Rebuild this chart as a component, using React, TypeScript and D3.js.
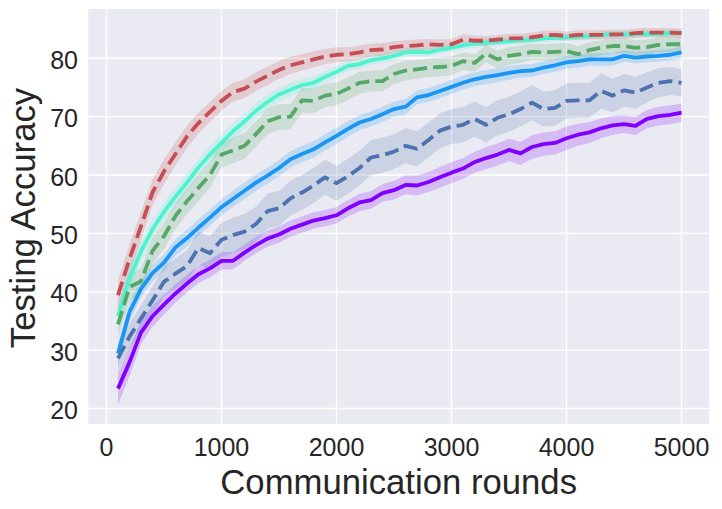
import * as d3 from 'd3';

// communication rounds at which each run was evaluated
const rounds = [
  100, 200, 300, 400, 500, 600, 700, 800, 900, 1000,
  1100, 1200, 1300, 1400, 1500, 1600, 1700, 1800, 1900, 2000,
  2100, 2200, 2300, 2400, 2500, 2600, 2700, 2800, 2900, 3000,
  3100, 3200, 3300, 3400, 3500, 3600, 3700, 3800, 3900, 4000,
  4100, 4200, 4300, 4400, 4500, 4600, 4700, 4800, 4900, 5000,
];

const purpleMean = [
  23.4, 27.9, 33.0, 35.8, 37.8, 39.7, 41.4, 43.0, 44.0, 45.3,
  45.3, 46.7, 48.0, 49.1, 49.8, 50.8, 51.5, 52.2, 52.6, 53.1,
  54.3, 55.3, 55.7, 56.9, 57.4, 58.3, 58.2, 58.8, 59.6, 60.4,
  61.1, 62.2, 62.9, 63.5, 64.3, 63.7, 64.8, 65.3, 65.5, 66.3,
  66.9, 67.3, 68.0, 68.5, 68.7, 68.4, 69.6, 70.1, 70.3, 70.7,
];
const purpleBand = [
  2.8, 2.4, 2.0, 1.8, 1.7, 1.6, 1.5, 1.5, 1.5, 1.5,
  1.5, 1.4, 1.4, 1.4, 1.4, 1.4, 1.4, 1.4, 1.4, 1.4,
  1.4, 1.5, 1.5, 1.5, 1.6, 1.6, 1.7, 1.7, 1.8, 1.8,
  1.8, 1.8, 1.9, 1.9, 1.9, 2.0, 2.0, 2.0, 2.0, 2.0,
  1.9, 1.8, 1.7, 1.6, 1.5, 1.6, 1.6, 1.6, 1.6, 1.6,
];

const blueMean = [
  29.4, 36.5, 40.5, 43.2, 45.0, 47.6, 49.2, 51.0, 52.7, 54.5,
  55.9, 57.3, 58.7, 59.9, 61.2, 62.7, 63.6, 64.4, 65.6, 66.7,
  67.9, 69.0, 69.6, 70.4, 71.3, 71.7, 73.3, 73.7, 74.4, 75.1,
  75.8, 76.4, 76.8, 77.1, 77.5, 77.8, 77.9, 78.4, 78.8, 79.3,
  79.5, 79.8, 79.8, 79.8, 80.4, 80.1, 80.3, 80.4, 80.6, 81.0,
];
const blueBand = [
  1.7, 1.6, 1.5, 1.5, 1.4, 1.4, 1.4, 1.4, 1.4, 1.4,
  1.4, 1.4, 1.4, 1.4, 1.4, 1.4, 1.4, 1.4, 1.4, 1.4,
  1.3, 1.3, 1.3, 1.3, 1.3, 1.3, 1.2, 1.2, 1.2, 1.2,
  1.2, 1.2, 1.2, 1.2, 1.2, 1.1, 1.1, 1.1, 1.1, 1.1,
  1.1, 1.1, 1.1, 1.1, 1.0, 1.0, 1.0, 1.0, 1.0, 1.0,
];

const aquaMean = [
  35.8, 42.3, 46.9, 50.7, 53.7, 56.3, 58.7, 61.3, 63.5, 65.5,
  67.5, 69.2, 71.0, 72.5, 73.8, 74.6, 75.4, 75.8, 76.8, 77.7,
  78.7, 79.0, 79.7, 80.0, 80.4, 81.0, 81.1, 81.0, 81.5, 81.8,
  82.2, 82.5, 82.7, 82.8, 82.9, 83.1, 83.2, 83.4, 83.5, 83.6,
  83.7, 83.8, 84.0, 84.1, 84.1, 84.1, 84.2, 84.2, 84.3, 84.4,
];
const aquaBand = [
  2.0, 1.9, 1.8, 1.7, 1.6, 1.6, 1.5, 1.5, 1.5, 1.5,
  1.4, 1.4, 1.3, 1.3, 1.2, 1.2, 1.1, 1.1, 1.0, 1.0,
  0.9, 0.9, 0.8, 0.8, 0.8, 0.7, 0.7, 0.7, 0.7, 0.7,
  0.7, 0.7, 0.7, 0.7, 0.6, 0.6, 0.6, 0.6, 0.6, 0.6,
  0.6, 0.6, 0.6, 0.6, 0.6, 0.6, 0.6, 0.6, 0.6, 0.6,
];

const dashBlueMean = [
  28.6, 32.3, 35.4, 38.5, 41.7, 43.1, 44.4, 47.5, 46.6, 48.9,
  49.7, 50.3, 51.6, 53.8, 54.3, 56.0, 57.0, 58.2, 59.6, 58.6,
  59.8, 61.2, 63.0, 63.4, 64.0, 65.0, 64.5, 66.0, 67.6, 68.3,
  68.6, 69.6, 68.6, 69.8, 70.4, 71.3, 72.4, 71.3, 71.5, 72.7,
  72.8, 72.8, 74.4, 73.6, 74.5, 74.1, 75.0, 75.8, 76.1, 75.8,
];
const dashBlueBand = [
  2.0, 2.2, 2.3, 2.4, 2.5, 2.6, 2.7, 2.8, 2.9, 2.9,
  3.0, 3.0, 3.0, 3.0, 3.0, 3.0, 3.0, 3.0, 3.0, 3.0,
  3.0, 3.0, 3.0, 3.0, 3.0, 3.0, 3.0, 3.0, 3.0, 3.0,
  3.0, 3.0, 3.0, 3.0, 3.0, 3.0, 3.0, 3.0, 3.0, 3.0,
  3.0, 3.0, 3.0, 2.9, 2.8, 2.7, 2.6, 2.5, 2.4, 2.3,
];

const greenMean = [
  34.4, 40.8, 41.8, 47.0, 49.5, 53.0, 55.5, 57.8, 60.0, 63.5,
  64.2, 65.0, 67.0, 69.2, 69.9, 70.0, 72.8, 72.7, 73.6, 73.9,
  74.8, 75.8, 76.1, 76.1, 77.3, 77.9, 78.1, 78.4, 78.5, 78.7,
  79.5, 79.2, 80.8, 79.8, 80.4, 80.7, 81.1, 81.0, 81.1, 81.2,
  80.7, 81.4, 81.8, 82.1, 82.1, 81.8, 81.9, 82.3, 82.4, 82.4,
];
const greenBand = [
  2.4, 2.3, 2.2, 2.2, 2.2, 2.2, 2.2, 2.2, 2.2, 2.2,
  2.2, 2.2, 2.2, 2.2, 2.2, 2.2, 2.1, 2.1, 2.0, 2.0,
  1.9, 1.9, 1.8, 1.8, 1.7, 1.7, 1.6, 1.6, 1.6, 1.6,
  1.5, 1.5, 1.5, 1.5, 1.5, 1.5, 1.4, 1.4, 1.4, 1.4,
  1.4, 1.4, 1.3, 1.3, 1.3, 1.3, 1.3, 1.3, 1.3, 1.3,
];

const redMean = [
  39.4, 45.6, 51.2, 57.0, 60.6, 63.6, 66.6, 68.9, 70.8, 72.7,
  74.2, 74.8, 76.0, 77.0, 78.0, 78.8, 79.3, 79.8, 80.3, 80.6,
  80.7, 81.0, 81.4, 81.5, 81.9, 82.1, 82.2, 82.4, 82.3, 82.4,
  83.2, 83.0, 83.0, 83.2, 83.4, 83.4, 83.6, 83.9, 84.0, 83.8,
  84.0, 84.0, 84.0, 84.1, 84.1, 84.3, 84.4, 84.4, 84.4, 84.3,
];
const redBand = [
  2.6, 2.5, 2.4, 2.2, 2.1, 2.0, 1.9, 1.8, 1.7, 1.7,
  1.6, 1.6, 1.6, 1.6, 1.5, 1.5, 1.4, 1.4, 1.3, 1.3,
  1.2, 1.2, 1.1, 1.1, 1.0, 1.0, 1.0, 0.9, 0.9, 0.9,
  0.9, 0.9, 0.8, 0.8, 0.8, 0.8, 0.8, 0.8, 0.8, 0.8,
  0.8, 0.8, 0.8, 0.8, 0.8, 0.8, 0.8, 0.8, 0.8, 0.8,
];

const xTicks = [0, 1000, 2000, 3000, 4000, 5000];
const yTicks = [20, 30, 40, 50, 60, 70, 80];

interface Series {
  color: string;
  dashed: boolean;
  mean: number[];
  band: number[];
}

// drawing order: solid rainbow runs first, dashed baselines on top
const series: Series[] = [
  {color: '#8000ff', dashed: false, mean: purpleMean, band: purpleBand},
  {color: '#1996f3', dashed: false, mean: blueMean, band: blueBand},
  {color: '#4df3ce', dashed: false, mean: aquaMean, band: aquaBand},
  {color: '#4c72b0', dashed: true, mean: dashBlueMean, band: dashBlueBand},
  {color: '#55a868', dashed: true, mean: greenMean, band: greenBand},
  {color: '#c44e52', dashed: true, mean: redMean, band: redBand},
];

const width = 722;
const height = 509;
const plot = {left: 88.3, right: 709, top: 9, bottom: 424};
const font = '"Liberation Sans", Arial, sans-serif';
const textColor = '#262626';
const lineWidth = 3.8;

export default function App() {
  const x = d3.scaleLinear().domain([-158, 5239]).range([plot.left, plot.right]);
  const y = d3.scaleLinear().domain([17.34, 88.44]).range([plot.bottom, plot.top]);

  const line = (s: Series) =>
    d3
      .line<number>()
      .x((_, i) => x(rounds[i]))
      .y((d) => y(d))(s.mean) || '';

  const area = (s: Series) =>
    d3
      .area<number>()
      .x((_, i) => x(rounds[i]))
      .y0((d, i) => y(d - s.band[i]))
      .y1((d, i) => y(d + s.band[i]))(s.mean) || '';

  return (
    <svg
      width={width}
      height={height}
      style={{position: 'absolute', left: 0, top: 0, background: '#ffffff'}}
      fontFamily={font}
    >
      <rect
        x={plot.left}
        y={plot.top}
        width={plot.right - plot.left}
        height={plot.bottom - plot.top}
        fill="#eaeaf2"
      />
      <defs>
        <clipPath id="plot-clip">
          <rect
            x={plot.left}
            y={plot.top}
            width={plot.right - plot.left}
            height={plot.bottom - plot.top}
          />
        </clipPath>
      </defs>

      <g stroke="#ffffff" strokeWidth={1.4}>
        {xTicks.map((t) => (
          <line key={`gx${t}`} x1={x(t)} x2={x(t)} y1={plot.top} y2={plot.bottom} />
        ))}
        {yTicks.map((t) => (
          <line key={`gy${t}`} x1={plot.left} x2={plot.right} y1={y(t)} y2={y(t)} />
        ))}
      </g>

      <g clipPath="url(#plot-clip)">
        {series.map((s, i) => (
          <path key={`band${i}`} d={area(s)} fill={s.color} fillOpacity={0.2} stroke="none" />
        ))}
        {series.map((s, i) => (
          <path
            key={`line${i}`}
            d={line(s)}
            fill="none"
            stroke={s.color}
            strokeWidth={lineWidth}
            strokeDasharray={s.dashed ? `${3.7 * lineWidth},${1.6 * lineWidth}` : undefined}
            strokeLinejoin="round"
          />
        ))}
      </g>

      <g fill={textColor} fontSize={25}>
        {xTicks.map((t) => (
          <text key={`tx${t}`} x={x(t)} y={455.5} textAnchor="middle">
            {t}
          </text>
        ))}
        {yTicks.map((t) => (
          <text key={`ty${t}`} x={78} y={y(t) + 10.5} textAnchor="end">
            {t}
          </text>
        ))}
      </g>

      <text
        x={(plot.left + plot.right) / 2}
        y={494}
        textAnchor="middle"
        fontSize={34.7}
        fill={textColor}
      >
        Communication rounds
      </text>
      <text
        transform={`translate(34.8,218) rotate(-90)`}
        textAnchor="middle"
        fontSize={34.7}
        fill={textColor}
      >
        Testing Accuracy
      </text>
    </svg>
  );
}
